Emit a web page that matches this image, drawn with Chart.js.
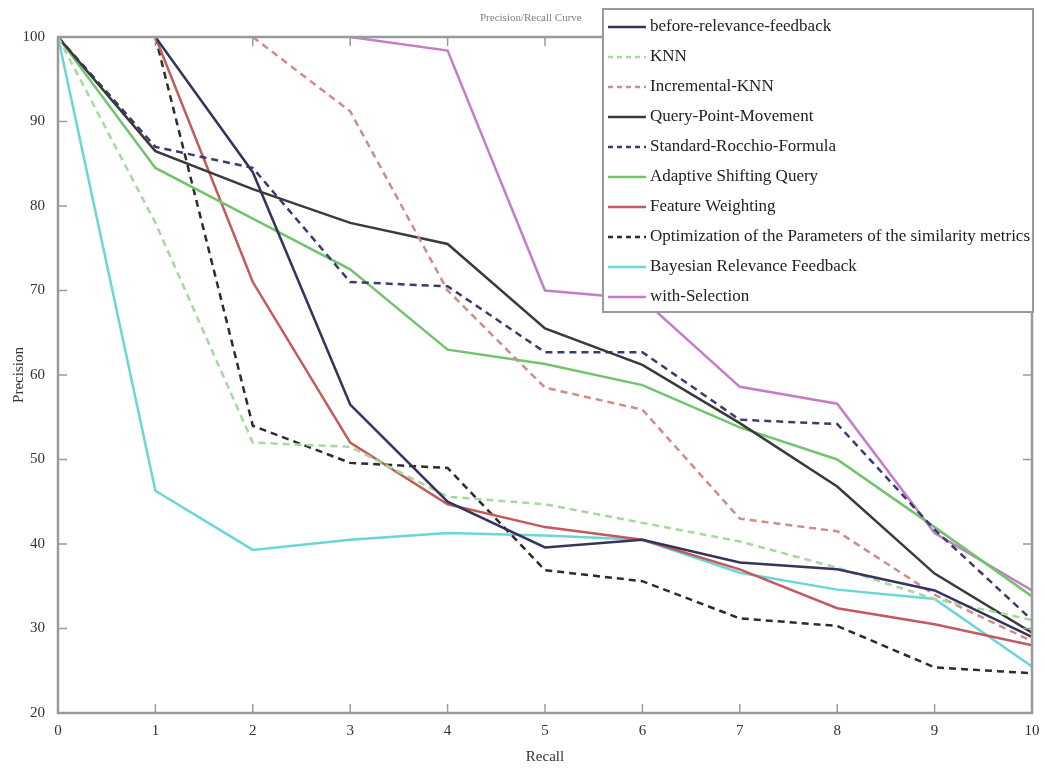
<!DOCTYPE html>
<html>
<head>
<meta charset="utf-8">
<script src="https://cdn.jsdelivr.net/npm/chart.js@4/dist/chart.umd.min.js"></script>
<style>
  html, body { margin: 0; padding: 0; background: #fff; }
  #wrap { width: 1045px; height: 769px; }
</style>
</head>
<body>
<div id="wrap"><canvas id="myChart" width="1045" height="769"></canvas></div>
<script>
// values (recall 0..10)
const recall = [0, 1, 2, 3, 4, 5, 6, 7, 8, 9, 10];
const xTicks = [0, 1, 2, 3, 4, 5, 6, 7, 8, 9, 10];
const yTicks = [20, 30, 40, 50, 60, 70, 80, 90, 100];

const beforeRF      = [null, 100, 84, 56.5, 45, 39.6, 40.5, 37.8, 37, 34.5, 29];
const knn           = [100, 78, 52, 51.5, 45.6, 44.7, 42.5, 40.3, 37.2, 33.5, 31];
const incKnn        = [null, null, 100, 91.2, 70, 58.5, 55.9, 43, 41.5, 34, 28.5];
const queryPoint    = [100, 86.5, 82, 78, 75.5, 65.5, 61.2, 54.3, 46.8, 36.5, 29.5];
const rocchio       = [100, 87, 84.5, 71, 70.5, 62.7, 62.7, 54.7, 54.2, 41.7, 31];
const adaptive      = [100, 84.5, 78.5, 72.5, 63, 61.3, 58.8, 53.8, 50, 42, 33.8];
const featureW      = [null, 100, 71, 52, 44.7, 42, 40.5, 37, 32.4, 30.5, 28];
const optimization  = [null, 100, 54, 49.6, 49, 36.9, 35.6, 31.2, 30.3, 25.4, 24.7];
const bayesian      = [100, 46.3, 39.3, 40.5, 41.3, 41, 40.5, 36.6, 34.6, 33.5, 25.5];
const withSelection = [null, null, null, 100, 98.4, 70, 69, 58.6, 56.6, 41.3, 34.5];

const labels = [
  'before-relevance-feedback', 'KNN', 'Incremental-KNN', 'Query-Point-Movement',
  'Standard-Rocchio-Formula', 'Adaptive Shifting Query', 'Feature Weighting',
  'Optimization of the Parameters of the similarity metrics',
  'Bayesian Relevance Feedback', 'with-Selection'
];
const series = [beforeRF, knn, incKnn, queryPoint, rocchio, adaptive, featureW, optimization, bayesian, withSelection];
const colors = ['#34345e', '#a6d8a0', '#cf8c88', '#3a3a3a', '#3b3b70', '#72c46c', '#c45a5a', '#2c2c2c', '#6ad6d8', '#c57ccb'];
const dashes = [[], [7, 5], [7, 5], [], [7, 5], [], [], [7, 5], [], []];

const datasets = series.map((vals, i) => ({
  label: labels[i],
  data: recall.map((r, j) => ({ x: r, y: vals[j] })),
  borderColor: colors[i],
  backgroundColor: colors[i],
  borderDash: dashes[i],
  borderWidth: 2.5,
  pointRadius: 0,
  tension: 0,
  spanGaps: false
}));

const serif = '"Liberation Serif", "DejaVu Serif", serif';

const matlabFrame = {
  id: 'matlabFrame',
  afterDatasetsDraw(chart) {
    const ctx = chart.ctx;
    const a = chart.chartArea;
    const xs = chart.scales.x, ys = chart.scales.y;
    ctx.save();
    ctx.strokeStyle = '#9a9a9a';
    ctx.lineWidth = 2.5;
    ctx.strokeRect(a.left, a.top, a.right - a.left, a.bottom - a.top);
    ctx.lineWidth = 1.5;
    ctx.beginPath();
    xTicks.forEach(v => {
      const px = xs.getPixelForValue(v);
      ctx.moveTo(px, a.bottom); ctx.lineTo(px, a.bottom - 9);
      ctx.moveTo(px, a.top); ctx.lineTo(px, a.top + 9);
    });
    yTicks.forEach(v => {
      const py = ys.getPixelForValue(v);
      ctx.moveTo(a.left, py); ctx.lineTo(a.left + 9, py);
      ctx.moveTo(a.right, py); ctx.lineTo(a.right - 9, py);
    });
    ctx.stroke();

    // title (partly hidden behind legend)
    ctx.fillStyle = '#808080';
    ctx.font = '11px ' + serif;
    ctx.textAlign = 'left';
    ctx.textBaseline = 'middle';
    ctx.fillText('Precision/Recall Curve', 480, 18);

    // legend box
    const lx = 603, ly = 9, lw = 430, lh = 303;
    ctx.fillStyle = '#fff';
    ctx.fillRect(lx, ly, lw, lh);
    ctx.strokeStyle = '#9a9a9a';
    ctx.lineWidth = 2;
    ctx.strokeRect(lx, ly, lw, lh);
    ctx.font = '17px ' + serif;
    chart.data.datasets.forEach((ds, i) => {
      const y = 27 + i * 30;
      ctx.strokeStyle = ds.borderColor;
      ctx.lineWidth = 2.5;
      ctx.setLineDash(ds.borderDash.length ? [5, 4] : []);
      ctx.beginPath();
      ctx.moveTo(608, y); ctx.lineTo(646, y);
      ctx.stroke();
      ctx.setLineDash([]);
      ctx.fillStyle = '#222';
      ctx.fillText(ds.label, 650, y);
    });
    ctx.restore();
  }
};

new Chart(document.getElementById('myChart'), {
  type: 'line',
  data: { datasets: datasets },
  options: {
    responsive: false,
    animation: false,
    layout: { padding: { top: 37, right: 13, left: 0, bottom: 0 } },
    plugins: { legend: { display: false }, title: { display: false }, tooltip: { enabled: false } },
    scales: {
      x: {
        type: 'linear', min: 0, max: 10,
        afterFit: s => { s.height = 56; },
        afterBuildTicks: s => { s.ticks = xTicks.map(v => ({ value: v })); },
        grid: { display: false },
        border: { display: false },
        ticks: { color: '#333', font: { family: serif, size: 15 }, padding: 1 },
        title: { display: true, text: 'Recall', color: '#333', font: { family: serif, size: 15 }, padding: { top: 0, bottom: 3 } }
      },
      y: {
        min: 20, max: 100,
        afterFit: s => { s.width = 58; },
        afterBuildTicks: s => { s.ticks = yTicks.map(v => ({ value: v })); },
        grid: { display: false },
        border: { display: false },
        ticks: { color: '#333', font: { family: serif, size: 15 }, padding: 5 },
        title: { display: true, text: 'Precision', color: '#333', font: { family: serif, size: 15 }, padding: { top: 10, bottom: 0 } }
      }
    }
  },
  plugins: [matlabFrame]
});
</script>
</body>
</html>
